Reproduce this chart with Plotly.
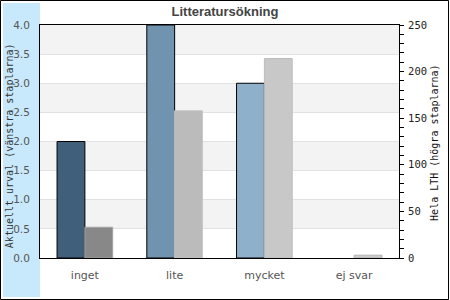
import plotly.graph_objects as go

categories = ["inget", "lite", "mycket", "ej svar"]
left_values = [2, 4, 3, 0]
right_values = [33, 158, 214, 3]
left_ticks = [0, 0.5, 1.0, 1.5, 2.0, 2.5, 3.0, 3.5, 4.0]
right_ticks = [0, 50, 100, 150, 200, 250]

left_colors = ["#3f5f7b", "#7094b0", "#8eb0cb", "#aac4d8"]
right_colors = ["#888888", "#bbbbbb", "#c8c8c8", "#cccccc"]
right_line_colors = ["#a4a4a4", "#c6c6c6", "#bcbcbc", "#b4b4b4"]

W, H = 450, 300
L, R, T, B = 40, 51, 25, 42
pw, ph = W - L - R, H - T - B

def px(x):
    return (x - L) / pw

def py(y):
    return (H - B - y) / ph

left_line_widths = [1 if v > 0 else 0 for v in left_values]

fig = go.Figure()
fig.add_trace(go.Bar(
    x=categories, y=left_values, yaxis="y",
    marker=dict(color=left_colors, line=dict(color="black", width=left_line_widths)),
    width=0.31, offset=-0.31, offsetgroup="a", showlegend=False,
))
fig.add_trace(go.Bar(
    x=categories, y=right_values, yaxis="y2",
    marker=dict(color=right_colors, line=dict(color=right_line_colors, width=1)),
    width=0.31, offset=0.0, offsetgroup="b", showlegend=False,
))

shapes = [
    dict(type="rect", xref="paper", yref="paper", x0=px(3), x1=px(40), y0=py(297), y1=py(3),
         fillcolor="#c8e8fc", line=dict(width=0), layer="below"),
    dict(type="rect", xref="paper", yref="paper", x0=px(0.5), x1=px(448.5), y0=py(299.5), y1=py(0.5),
         line=dict(color="black", width=1), fillcolor="rgba(0,0,0,0)", layer="below"),
]
for lo in [0.5, 1.5, 2.5, 3.5]:
    shapes.append(dict(type="rect", xref="paper", yref="y", x0=0, x1=1, y0=lo, y1=lo + 0.5,
                       fillcolor="#f3f3f3", line=dict(width=0), layer="below"))

fig.update_layout(
    width=W, height=H,
    margin=dict(l=L, r=R, t=T, b=B, pad=0),
    paper_bgcolor="white", plot_bgcolor="white",
    title=dict(text="<b>Litteratursökning</b>", x=0.5, xanchor="center",
               y=(H - 11.5) / H, yanchor="middle", yref="container",
               font=dict(family="Liberation Sans", size=13, color="#444444")),
    barmode="group",
    shapes=shapes,
    xaxis=dict(type="category", showline=True, linecolor="black", linewidth=1, mirror=True,
               showgrid=False, ticks="", ticklabelstandoff=7,
               tickfont=dict(family="DejaVu Sans", size=11, color="#555555")),
    yaxis=dict(range=[0, 4], tickvals=left_ticks, tickformat=".1f", showline=True,
               linecolor="black", linewidth=1, showgrid=True, gridcolor="#e2e2e2",
               gridwidth=1, zeroline=False, ticks="", ticklabelstandoff=7,
               tickfont=dict(family="DejaVu Sans", size=10.5, color="#555555")),
    yaxis2=dict(range=[0, 250], overlaying="y", side="right", tickvals=right_ticks,
                showline=True, linecolor="black", linewidth=1, showgrid=False,
                zeroline=False, ticks="outside", ticklen=4, tickcolor="black",
                minor=dict(dtick=10, ticks="outside", ticklen=4, tickcolor="black", showgrid=False),
                ticklabelstandoff=2,
                tickfont=dict(family="DejaVu Sans Mono", size=10.5, color="#222222")),
    annotations=[
        dict(text="Aktuellt urval (vänstra staplarna)", xref="paper", yref="paper",
             x=px(9), y=0.48, textangle=-90, showarrow=False, xanchor="center", yanchor="middle",
             font=dict(family="DejaVu Sans Mono", size=10, color="#333333")),
        dict(text="Hela LTH (högra staplarna)", xref="paper", yref="paper",
             x=px(435), y=0.494, textangle=-90, showarrow=False, xanchor="center", yanchor="middle",
             font=dict(family="DejaVu Sans Mono", size=10, color="#111111")),
    ],
)

fig.write_html("out.html")
